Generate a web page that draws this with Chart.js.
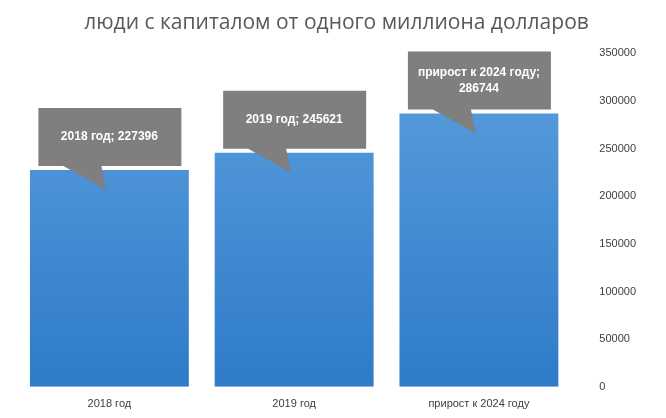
<!DOCTYPE html>
<html><head><meta charset="utf-8">
<script src="https://cdn.jsdelivr.net/npm/chart.js@4"></script>
<style>html,body{margin:0;padding:0;background:#fff}#w{width:666px;height:418px}</style>
</head><body><div id="w"><canvas id="c"></canvas></div>
<script>
const categories = ["2018 год", "2019 год", "прирост к 2024 году"];
const values = [227396, 245621, 286744];
const labelLines = [["2018 год; 227396"], ["2019 год; 245621"], ["прирост к 2024 году;", "286744"]];
const tickStep = 50000;

const callouts = {
  id: 'callouts',
  afterDatasetsDraw(chart) {
    const ctx = chart.ctx;
    chart.getDatasetMeta(0).data.forEach((bar, i) => {
      const cx = bar.x, top = bar.y;
      const l = cx - 71, r = cx + 72, t = top - 62, b = top - 4;
      ctx.save();
      ctx.fillStyle = '#7f7f7f';
      ctx.beginPath();
      ctx.moveTo(l, t); ctx.lineTo(r, t); ctx.lineTo(r, b);
      ctx.lineTo(cx - 8, b); ctx.lineTo(cx - 3, top + 20); ctx.lineTo(cx - 46, b);
      ctx.lineTo(l, b); ctx.closePath(); ctx.fill();
      ctx.fillStyle = '#fff';
      ctx.font = 'bold 12px "Liberation Sans", Arial, sans-serif';
      ctx.textAlign = 'center'; ctx.textBaseline = 'middle';
      const lines = labelLines[i];
      const mid = (t + b) / 2;
      lines.forEach((s, k) => ctx.fillText(s, cx, mid + (k - (lines.length - 1) / 2) * 16));
      ctx.restore();
    });
  }
};

new Chart(document.getElementById('c'), {
  type: 'bar',
  data: { labels: categories, datasets: [{ data: values,
    backgroundColor: (c) => {
      const a = c.chart.chartArea; if (!a) return '#4a8fd4';
      const g = c.chart.ctx.createLinearGradient(0, a.top, 0, a.bottom);
      g.addColorStop(0, '#5b9fdd'); g.addColorStop(1, '#2f7bc9'); return g;
    },
    categoryPercentage: 0.86, barPercentage: 1 }] },
  options: {
    responsive: true, maintainAspectRatio: false, animation: false,
    layout: { padding: { left: 17, right: 10, top: 0, bottom: 4 } },
    plugins: { legend: { display: false }, tooltip: { enabled: false },
      title: { display: true, text: 'люди с капиталом от одного миллиона долларов',
        color: '#595959', font: { size: 21, weight: 'normal', family: '"Open Sans", "Liberation Sans", Arial, sans-serif' },
        padding: { top: 10, bottom: 18 } } },
    scales: {
      x: { grid: { display: false }, border: { display: false },
        ticks: { color: '#404040', font: { size: 11, family: '"Liberation Sans", Arial' } } },
      y: { position: 'right', min: 0, max: 350000, grid: { display: false }, border: { display: false },
        ticks: { stepSize: tickStep, color: '#404040', padding: 20, callback: v => String(v),
          font: { size: 11, family: '"Liberation Sans", Arial' } } }
    }
  },
  plugins: [callouts]
});
</script></body></html>
